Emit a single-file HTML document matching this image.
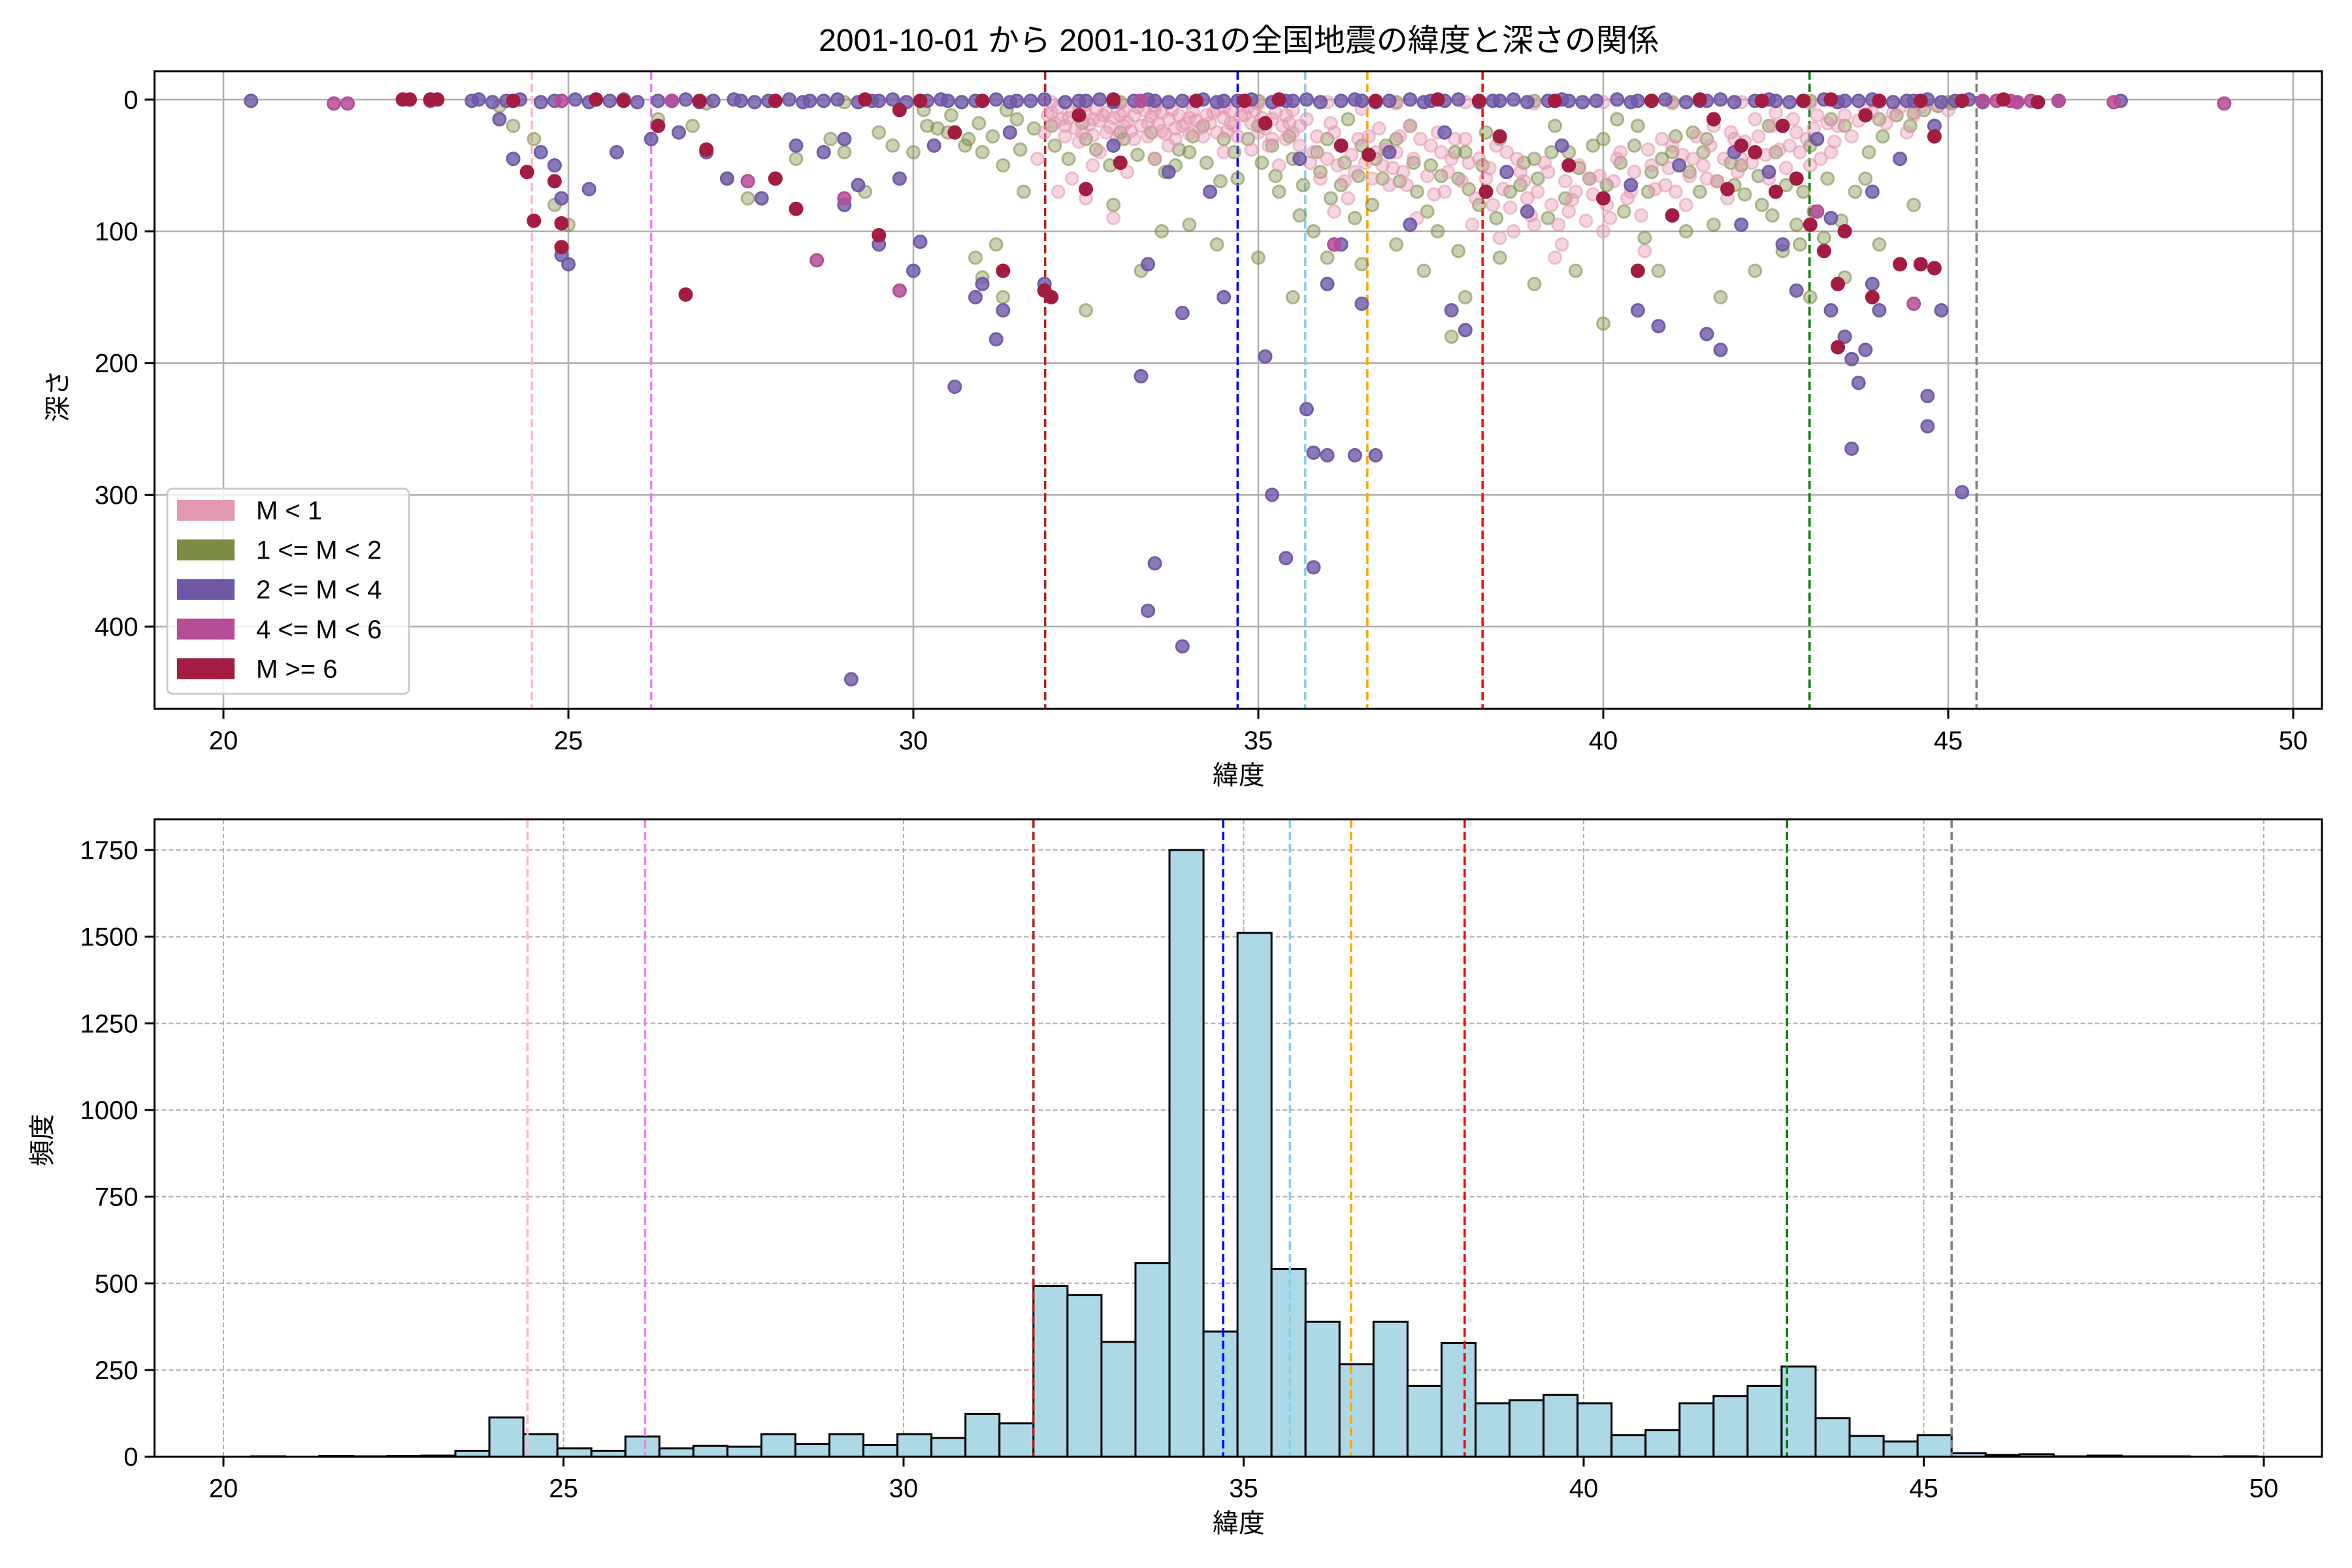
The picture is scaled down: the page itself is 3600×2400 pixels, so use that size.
<!DOCTYPE html>
<html><head><meta charset="utf-8">
<style>
html,body{margin:0;padding:0;background:#fff;}
svg{display:block;}
text{font-family:"Liberation Sans","Noto Sans CJK JP",sans-serif;fill:#000;}
</style></head>
<body>
<svg id="fig" width="3600" height="2400" viewBox="0 0 3600 2400" xmlns="http://www.w3.org/2000/svg">
<text x="1896" y="78" font-size="48" text-anchor="middle">2001-10-01 から 2001-10-31の全国地震の緯度と深さの関係</text>
<g id="topPanel"></g>
<g id="botPanel"></g>
</svg>
<script>
// ---------- data ----------
const refLats = [24.47, 26.2, 31.91, 34.7, 35.68, 36.58, 38.25, 42.99, 45.41];
const refColors = ['#ffb6c1','#ee82ee','#b22222','#0000ff','#87ceeb','#ffa500','#ff0000','#008000','#808080'];
const depthTicks = [0,100,200,300,400];
const latTicks = [20,25,30,35,40,45,50];
const countTicks = [0,250,500,750,1000,1250,1500,1750];
const binStart = 20.41;
const binWidth = 0.5;
const binCounts = [1,0,2,1,2,3,17,113,65,24,17,58,24,31,29,65,36,65,34,65,54,123,96,492,466,331,558,1750,361,1511,541,389,267,389,204,328,154,163,178,154,62,77,154,175,204,260,111,60,44,62,10,5,7,1,3,1,1,0,1];
const legendLabels = ['M < 1','1 <= M < 2','2 <= M < 4','4 <= M < 6','M >= 6'];
const pinkPts = [[32.0,10],[32.2,20],[32.4,8],[32.6,15],[32.8,25],[33.0,12],[33.2,30],[33.4,18],[33.6,10],[33.8,22],[34.0,14],[34.2,28],[34.4,8],[34.6,18],[34.8,12],[35.0,25],[35.2,15],[35.4,30],[35.6,20],[35.8,40],[36.0,45],[36.2,35],[36.4,55],[36.6,28],[36.8,50],[37.0,40],[37.2,20],[37.5,35],[37.8,45],[38.0,30],[38.3,60],[38.6,40],[38.9,75],[39.2,55],[39.5,85],[39.8,60],[40.1,90],[40.4,70],[40.7,50],[41.0,35],[41.3,45],[41.6,20],[41.9,30],[42.2,15],[42.5,10],[42.8,25],[43.1,12],[43.4,20],[43.8,8],[44.2,10],[44.6,6],[32.3,60],[32.5,75],[32.9,90],[33.1,55],[33.5,45],[31.8,45],[32.1,70],[34.5,40],[35.3,50],[36.3,75],[37.3,90],[38.1,95],[38.7,100],[39.4,110],[40.0,100],[40.6,115],[41.2,80],[39.0,95],[38.4,80],[32.7,40],[33.7,35],[34.9,38],[35.9,60],[36.9,65],[37.7,70],[40.9,65],[41.8,75],[42.4,60],[43.0,50],[32.0,2],[32.5,4],[33.0,3],[33.5,5],[34.0,2],[34.5,6],[35.0,3],[35.5,8],[36.0,2],[36.5,7],[37.0,3],[38.0,2],[39.0,3],[40.0,2],[41.0,3],[42.0,2],[43.0,3],[44.0,2],[32.15,15],[32.45,25],[32.75,12],[33.05,20],[33.35,8],[33.65,26],[33.95,18],[34.25,12],[34.55,24],[34.85,6],[35.15,35],[35.45,18],[36.1,25],[36.7,40],[37.1,55],[37.6,25],[38.2,45],[38.8,55],[39.6,70],[40.2,45],[41.5,60],[42.0,45],[42.7,35],[43.3,40],[44.4,25],[39.3,120],[38.5,105],[36.1,85],[31.9,25],[32.6,50]];
const pinkBlob = [[31.95,12],[32.05,18],[32.1,6],[32.2,28],[32.25,14],[32.3,9],[32.35,22],[32.4,32],[32.5,11],[32.55,19],[32.6,27],[32.65,7],[32.7,16],[32.8,10],[32.85,21],[32.9,14],[32.95,30],[33.05,9],[33.1,17],[33.15,24],[33.2,12],[33.25,6],[33.3,20],[33.4,28],[33.45,13],[33.5,8],[33.55,18],[33.6,24],[33.7,15],[33.75,8],[33.8,30],[33.85,12],[33.9,20],[34.0,26],[34.05,9],[34.1,16],[34.15,22],[34.3,18],[34.35,10],[34.4,25],[34.5,14],[34.6,9],[34.65,20],[34.7,28],[34.75,12],[34.9,18],[34.95,8],[35.05,14],[35.1,22],[35.2,30],[35.25,10],[35.35,20],[35.4,12],[35.5,25],[35.6,35],[35.7,15],[35.75,48],[35.85,28],[36.05,18],[36.15,50],[36.25,62],[36.35,42],[36.45,30],[36.55,48],[36.65,60],[36.75,22],[36.85,38],[36.95,52],[37.05,28],[37.15,65],[37.25,45],[37.35,30],[37.45,58],[37.55,72],[37.65,40],[37.75,55],[37.85,30],[37.95,62],[38.05,48],[38.15,75],[38.35,52],[38.45,35],[38.55,68],[38.65,82],[38.75,45],[38.85,62],[38.95,88],[39.05,70],[39.15,48],[39.25,80],[39.35,95],[39.45,62],[39.55,76],[39.65,50],[39.75,92],[39.85,72],[39.95,58],[40.05,80],[40.15,62],[40.25,40],[40.35,75],[40.45,55],[40.55,88],[40.65,38],[40.75,68],[40.85,30],[40.95,52],[41.05,70],[41.15,42],[41.25,58],[41.35,28],[41.45,50],[41.55,35],[41.65,62],[41.75,45],[41.85,25],[41.95,55],[42.05,32],[42.15,48],[42.25,28],[42.35,42],[42.45,20],[42.55,38],[42.65,52],[42.75,15],[42.85,40],[42.95,30],[43.05,22],[43.15,45],[43.25,18],[43.35,32],[43.5,12],[43.6,28],[43.7,16],[43.9,10],[44.1,18],[44.3,6],[44.5,12],[44.8,4],[45.0,8]];
const greenPts = [[24.2,20],[24.5,30],[24.8,80],[25.0,95],[26.3,15],[26.8,20],[27.3,60],[27.6,75],[28.0,60],[28.3,45],[29.0,40],[29.3,70],[29.7,35],[30.0,40],[30.5,25],[31.0,40],[31.3,50],[31.6,70],[31.3,150],[31.0,135],[30.9,120],[32.5,160],[33.3,130],[33.6,100],[34.0,95],[34.4,110],[35.0,120],[35.5,150],[35.8,100],[36.0,120],[36.5,125],[37.0,110],[37.4,130],[37.8,180],[38.0,150],[38.5,120],[39.0,140],[39.6,130],[40.0,170],[40.8,130],[41.2,100],[41.7,150],[42.2,130],[42.6,115],[43.0,150],[43.5,135],[44.0,110],[44.5,80],[32.0,20],[32.5,30],[33.0,25],[33.5,45],[34.0,40],[34.5,30],[35.0,20],[35.5,45],[36.0,30],[36.5,35],[37.0,30],[37.5,50],[38.0,40],[38.5,30],[39.0,45],[39.5,40],[40.0,30],[40.5,20],[41.0,40],[41.5,30],[42.0,50],[42.5,40],[43.0,35],[43.5,20],[44.0,15],[44.5,10],[36.2,65],[36.8,60],[37.3,70],[38.2,80],[39.2,90],[40.3,85],[41.4,70],[42.3,80],[42.8,95],[43.2,105],[33.8,50],[34.7,60],[35.3,70],[36.4,90],[37.6,100],[30.2,20],[30.8,30],[31.5,15],[29.5,25],[28.8,30],[35.9,55],[36.7,45],[37.9,60],[38.8,65],[39.8,60],[40.7,55],[41.9,65],[42.9,70],[43.8,60],[34.2,20],[35.2,35],[36.3,15],[37.2,20],[38.3,25],[39.3,20],[40.2,15],[41.3,25],[42.4,20],[43.3,15],[24.0,5],[27.0,3],[29.0,2],[31.0,1],[33.0,2],[35.0,1],[37.0,2],[39.0,1],[41.0,2],[43.0,1],[45.0,2]];
const greenBlob = [[30.15,8],[30.35,22],[30.55,12],[30.75,35],[30.95,18],[31.15,28],[31.35,8],[31.55,38],[31.75,22],[32.05,35],[32.25,45],[32.45,18],[32.65,38],[32.85,50],[33.05,30],[33.25,42],[33.45,25],[33.65,55],[33.85,38],[34.05,28],[34.25,48],[34.45,62],[34.65,40],[34.85,30],[35.05,48],[35.25,58],[35.45,28],[35.65,65],[35.85,40],[36.05,75],[36.25,48],[36.45,58],[36.65,80],[36.85,35],[37.05,62],[37.25,48],[37.45,85],[37.65,58],[37.85,40],[38.05,68],[38.25,50],[38.45,90],[38.65,70],[38.85,48],[39.05,60],[39.25,40],[39.45,75],[39.65,52],[39.85,35],[40.05,65],[40.25,48],[40.45,35],[40.65,70],[40.85,45],[41.05,28],[41.25,55],[41.45,40],[41.65,62],[41.85,48],[42.05,72],[42.25,58],[42.45,88],[42.65,65],[42.85,110],[43.05,85],[43.25,60],[43.45,92],[43.65,70],[43.85,40],[44.05,28],[44.25,12],[44.45,20],[44.65,8],[44.85,5],[45.05,3],[31.2,110],[32.9,80],[35.6,88],[37.9,115],[40.6,105],[41.6,95]];
const purplePts = [[20.4,1],[24.0,15],[24.2,45],[24.6,40],[24.8,50],[24.9,75],[24.9,118],[25.0,125],[25.3,68],[25.7,40],[26.2,30],[26.6,25],[27.0,40],[27.3,60],[27.8,75],[28.3,35],[28.7,40],[29.0,80],[29.2,65],[29.5,110],[29.8,60],[30.1,108],[30.0,130],[30.9,150],[31.0,140],[31.3,160],[31.2,182],[30.6,218],[31.9,140],[33.3,210],[33.4,125],[33.9,162],[34.5,150],[35.1,195],[35.2,300],[35.7,235],[35.8,268],[36.0,270],[36.4,270],[36.7,270],[35.4,348],[35.8,355],[33.5,352],[33.4,388],[33.9,415],[29.1,440],[36.0,140],[36.5,155],[37.8,160],[38.0,175],[40.5,160],[40.8,172],[41.5,178],[41.7,190],[42.8,145],[43.3,160],[43.5,180],[43.6,197],[43.8,190],[43.6,265],[43.7,215],[44.7,225],[44.7,248],[44.9,160],[45.2,298],[44.0,160],[43.9,140],[29.0,30],[30.3,35],[31.4,25],[32.9,35],[33.7,55],[34.3,70],[35.6,45],[36.9,40],[37.7,25],[38.6,55],[39.4,35],[40.4,65],[41.1,50],[41.9,40],[42.4,55],[43.1,30],[43.9,70],[44.3,45],[44.8,20],[36.2,110],[37.2,95],[38.9,85],[42.0,95],[42.6,110],[43.3,90]];
const purpleShallowLats = [23.6,23.7,23.9,24.1,24.3,24.6,24.8,25.1,25.3,25.6,25.8,26.0,26.3,26.5,26.7,26.9,27.1,27.4,27.5,27.7,27.9,28.2,28.4,28.5,28.7,28.9,29.2,29.4,29.5,29.7,29.9,30.2,30.4,30.5,30.7,30.9,31.2,31.4,31.5,31.7,31.9,32.2,32.4,32.5,32.7,32.9,33.2,33.4,33.5,33.7,33.9,34.2,34.4,34.5,34.7,34.9,35.2,35.4,35.5,35.7,35.9,36.2,36.4,36.5,36.7,36.9,37.2,37.4,37.5,37.7,37.9,38.2,38.4,38.5,38.7,38.9,39.2,39.4,39.5,39.7,39.9,40.2,40.4,40.5,40.7,40.9,41.2,41.4,41.5,41.7,41.9,42.2,42.4,42.5,42.7,42.9,43.2,43.4,43.5,43.7,43.9,44.2,44.4,44.5,44.7,44.9,45.1,45.3,45.5,46.0,46.6,47.5];
const purpleShallowDepths = [1,0,2,1,0,2,1,0,2,1,0,2,1,1,0,2,1,0,1,2,1,0,2,1,1,0,2,1,1,0,2,1,0,1,2,1,0,2,1,1,0,2,1,1,0,2,1,0,1,2,1,0,2,1,1,0,2,1,1,0,2,1,0,1,2,1,0,2,1,1,0,2,1,1,0,2,1,0,1,2,1,0,2,1,1,0,2,1,1,0,2,1,0,1,2,1,0,2,1,1,0,2,1,1,0,2,1,0,2,2,1,1];
const magentaPts = [[21.6,3],[21.8,3],[23.0,1],[28.6,122],[29.8,145],[29.0,75],[36.1,110],[44.5,155],[43.1,85],[27.6,62],[24.9,1],[26.5,1],[33.3,1],[45.5,1],[45.9,1],[46.2,1],[46.6,1],[47.4,2],[49.0,3],[45.7,1],[46.0,2]];
const redPts = [[22.6,0],[22.7,0],[23.0,0],[23.1,0],[24.4,55],[24.5,92],[24.8,62],[24.9,112],[24.9,94],[26.3,20],[27.0,38],[26.7,148],[28.3,83],[28.0,60],[29.5,103],[31.3,130],[32.0,150],[31.9,145],[32.5,68],[33.0,48],[35.1,18],[36.2,35],[38.3,70],[38.5,28],[39.5,50],[40.0,75],[40.5,130],[41.0,88],[41.8,68],[42.2,40],[42.5,70],[42.8,60],[43.0,95],[43.2,115],[43.4,140],[43.4,188],[43.9,150],[44.3,125],[44.6,125],[44.8,128],[44.8,28],[43.5,100],[42.0,35],[25.8,1],[28.0,1],[31.0,1],[34.8,1],[38.2,1],[40.7,1],[42.9,1],[44.0,1],[45.2,1],[46.3,2],[24.2,1],[25.4,0],[26.9,1],[29.3,0],[30.1,1],[32.9,0],[34.1,1],[35.3,0],[36.7,1],[37.6,0],[39.3,1],[41.4,0],[42.3,1],[43.3,0],[44.6,1],[45.8,0],[29.8,8],[32.4,12],[41.6,15],[42.6,20],[43.8,12],[36.6,42],[30.6,25]];

// ---------- helpers ----------
const NS='http://www.w3.org/2000/svg';
function mk(parent, tag, attrs, txt){const e=document.createElementNS(NS,tag);for(const k in attrs)e.setAttribute(k,attrs[k]);if(txt!==undefined)e.textContent=txt;parent.appendChild(e);return e;}
const T={l:236.5,r:3554,t:109,b:1085};
const sx=lat=>342+(lat-20)*105.6;
const sy=d=>152.3+d*2.017;
const B={l:236.5,r:3554,t:1254,b:2229.6};
const hx=lat=>342+(lat-20)*104.1;
const hy=c=>2229.6-c*(132.65/250);

// ---------- top scatter ----------
const topG=document.getElementById('topPanel');
for(const v of latTicks){
  const g=mk(topG,'line',{x1:sx(v),x2:sx(v),y1:T.t,y2:T.b,stroke:'#b0b0b0','stroke-width':2.6});
  
  
}
for(const v of depthTicks){
  const g=mk(topG,'line',{x1:T.l,x2:T.r,y1:sy(v),y2:sy(v),stroke:'#b0b0b0','stroke-width':2.6});
  
  
}
refLats.forEach((lat,i)=>{
  const l=mk(topG,'line',{x1:sx(lat),x2:sx(lat),y1:T.t,y2:T.b,stroke:refColors[i],'stroke-width':3.5,'stroke-dasharray':'13,6'});
  
  
});
const purpleShallow = purpleShallowLats.map((lat,i)=>[lat,purpleShallowDepths[i]]);
const series=[
  {pts:greenPts.concat(greenBlob),c:'#7a8b43',op:0.4,name:'points-m1-2'},
  {pts:pinkPts.concat(pinkBlob),c:'#e497b1',op:0.4,name:'points-m-lt-1'},
  {pts:purplePts.concat(purpleShallow),c:'#6f57a6',op:0.8,name:'points-m2-4'},
  {pts:magentaPts,c:'#b54c98',op:0.85,name:'points-m4-6'},
  {pts:redPts,c:'#a31c41',op:1,name:'points-m-ge-6'}
];
const clipDef=mk(topG,'clipPath',{id:'tc'});mk(clipDef,'rect',{x:T.l,y:T.t,width:T.r-T.l,height:T.b-T.t});
for(const s of series){
  const g=mk(topG,'g',{'clip-path':'url(#tc)'});
  
  
  for(const p of s.pts){
    const c=mk(g,'circle',{cx:sx(p[0]),cy:sy(p[1]),r:9.5,fill:s.c,'fill-opacity':s.op,stroke:s.c,'stroke-opacity':Math.min(1,s.op+0.15),'stroke-width':3});
    
    
  }
}
mk(topG,'rect',{x:T.l,y:T.t,width:T.r-T.l,height:T.b-T.t,fill:'none',stroke:'#000','stroke-width':3});
for(const v of latTicks){
  mk(topG,'line',{x1:sx(v),x2:sx(v),y1:T.b,y2:T.b+15,stroke:'#000','stroke-width':3});
  const t=mk(topG,'text',{x:sx(v),y:T.b+62,'font-size':40,'text-anchor':'middle'},String(v));
  
  
}
for(const v of depthTicks){
  mk(topG,'line',{x1:T.l-15,x2:T.l,y1:sy(v),y2:sy(v),stroke:'#000','stroke-width':3});
  const t=mk(topG,'text',{x:T.l-25,y:sy(v)+14,'font-size':40,'text-anchor':'end'},String(v));
  
  
}
let xl=mk(topG,'text',{x:1896,y:1200,'font-size':40,'text-anchor':'middle'},'緯度');


let yl=mk(topG,'text',{x:0,y:0,'font-size':40,'text-anchor':'middle',transform:'translate(102,606) rotate(-90)'},'深さ');


const lg=mk(topG,'g',{});


mk(lg,'rect',{x:256,y:748,width:370,height:314,rx:8,fill:'#fff','fill-opacity':0.8,stroke:'#cccccc','stroke-width':3});
const legColors=['#e497b1','#7a8b43','#6f57a6','#b54c98','#a31c41'];
legendLabels.forEach((lab,i)=>{
  const y=765+i*60.6;
  const e=mk(lg,'g',{});
  
  
  mk(e,'rect',{x:271,y:y,width:88,height:32,fill:legColors[i]});
  mk(e,'text',{x:392,y:y+30,'font-size':40},lab);
});

// ---------- bottom histogram ----------
const botG=document.getElementById('botPanel');
for(const v of latTicks){
  const g=mk(botG,'line',{x1:hx(v),x2:hx(v),y1:B.t,y2:B.b,stroke:'#b0b0b0','stroke-width':2,'stroke-dasharray':'7,4'});
  
  
}
for(const v of countTicks){
  const g=mk(botG,'line',{x1:B.l,x2:B.r,y1:hy(v),y2:hy(v),stroke:'#b0b0b0','stroke-width':2,'stroke-dasharray':'7,4'});
  
  
}
binCounts.forEach((c,i)=>{
  const x0=hx(binStart+i*binWidth), x1=hx(binStart+(i+1)*binWidth);
  const r=mk(botG,'rect',{x:x0,y:hy(c),width:x1-x0,height:hy(0)-hy(c),fill:'#add8e6',stroke:'#000','stroke-width':3});
  
  
});
refLats.forEach((lat,i)=>{
  const l=mk(botG,'line',{x1:hx(lat),x2:hx(lat),y1:B.t,y2:B.b,stroke:refColors[i],'stroke-width':3.5,'stroke-dasharray':'13,6'});
  
  
});
mk(botG,'rect',{x:B.l,y:B.t,width:B.r-B.l,height:B.b-B.t,fill:'none',stroke:'#000','stroke-width':3});
for(const v of latTicks){
  mk(botG,'line',{x1:hx(v),x2:hx(v),y1:B.b,y2:B.b+15,stroke:'#000','stroke-width':3});
  const t=mk(botG,'text',{x:hx(v),y:B.b+62,'font-size':40,'text-anchor':'middle'},String(v));
  
  
}
for(const v of countTicks){
  mk(botG,'line',{x1:B.l-15,x2:B.l,y1:hy(v),y2:hy(v),stroke:'#000','stroke-width':3});
  const t=mk(botG,'text',{x:B.l-25,y:hy(v)+14,'font-size':40,'text-anchor':'end'},String(v));
  
  
}
xl=mk(botG,'text',{x:1896,y:2345,'font-size':40,'text-anchor':'middle'},'緯度');


yl=mk(botG,'text',{x:0,y:0,'font-size':40,'text-anchor':'middle',transform:'translate(78,1745) rotate(-90)'},'頻度');


</script>
</body></html>
